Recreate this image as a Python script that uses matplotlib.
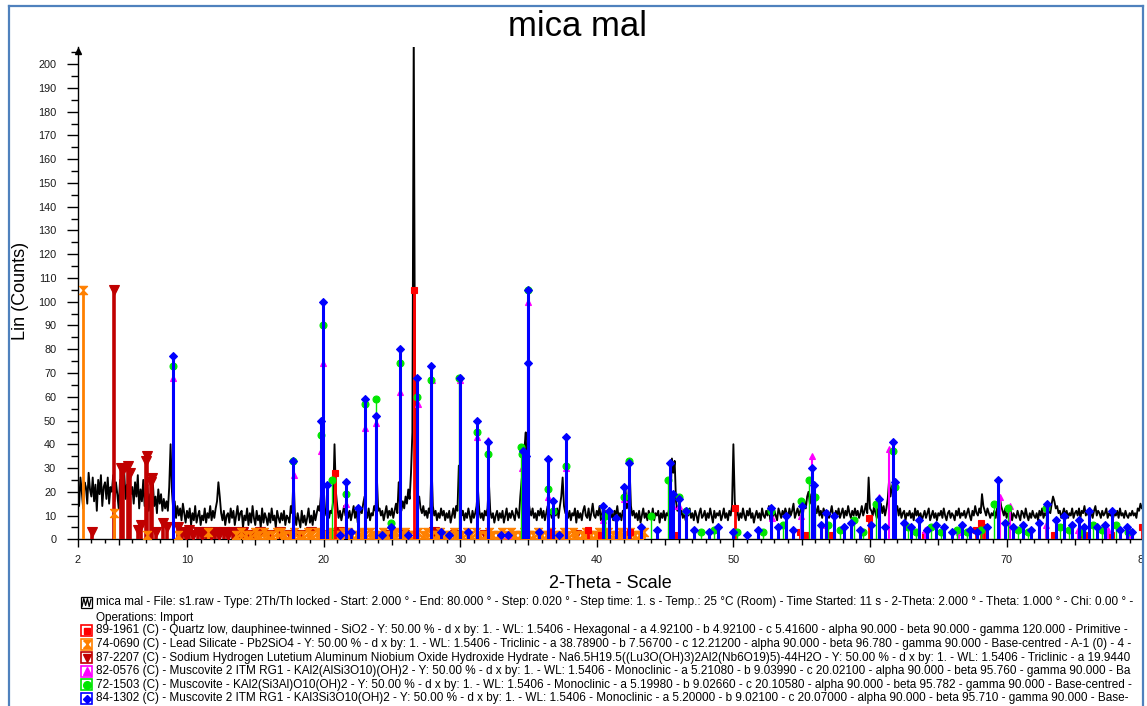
import numpy as np
import matplotlib
matplotlib.use("Agg")
import matplotlib.pyplot as plt
from matplotlib.patches import Rectangle
from matplotlib.lines import Line2D
from matplotlib.ticker import MultipleLocator, FixedLocator

plt.rcParams['font.family'] = ['Liberation Sans', 'DejaVu Sans']

# ---------------- data ----------------
TITLE = "mica mal"
X_LABEL = "2-Theta - Scale"
Y_LABEL = "Lin (Counts)"

SCAN_START = 2.0
SCAN_STEP = 0.1
SCAN_COUNTS = [
    25, 14, 26, 20, 13, 24, 22, 15, 28, 21,
    18, 26, 16, 23, 12, 25, 19, 27, 14, 22,
    24, 17, 26, 15, 22, 20, 27, 16, 24, 19,
    13, 25, 18, 21, 29, 17, 23, 14, 26, 19,
    22, 15, 24, 18, 27, 13, 21, 16, 25, 14,
    20, 23, 12, 19, 16, 24, 14, 18, 11, 21,
    15, 19, 12, 17, 13, 16, 12, 22, 40, 20,
    12, 16, 9, 14, 10, 13, 8, 15, 11, 7,
    12, 9, 13, 6, 11, 8, 14, 7, 10, 12,
    6, 10, 8, 13, 7, 11, 9, 14, 8, 12,
    9, 13, 16, 24, 18, 11, 8, 12, 6, 10,
    11, 7, 13, 9, 12, 6, 10, 14, 8, 11,
    12, 5, 10, 8, 13, 6, 11, 7, 14, 9,
    6, 12, 8, 10, 5, 13, 7, 11, 9, 6,
    11, 7, 13, 8, 10, 5, 12, 9, 7, 11,
    8, 12, 6, 10, 9, 7, 14, 11, 27, 10,
    6, 11, 8, 5, 12, 7, 10, 6, 9, 13,
    7, 10, 6, 12, 8, 11, 14, 12, 18, 36,
    22, 13, 10, 14, 9, 12, 11, 16, 40, 20,
    14, 9, 12, 8, 11, 14, 10, 13, 9, 12,
    8, 11, 14, 9, 12, 7, 10, 13, 11, 15,
    18, 12, 9, 13, 8, 11, 10, 14, 12, 26,
    12, 13, 10, 12, 8, 11, 14, 9, 12, 10,
    13, 9, 12, 15, 11, 24, 14, 12, 16, 13,
    18, 15, 21, 17, 28, 45, 215, 48, 22, 16,
    18, 13, 11, 14, 10, 12, 9, 13, 11, 32,
    14, 10, 12, 8, 11, 9, 13, 10, 12, 8,
    11, 9, 12, 7, 10, 13, 9, 14, 12, 31,
    18, 10, 12, 8, 11, 9, 13, 10, 7, 12,
    9, 11, 14, 21, 12, 9, 11, 8, 12, 10,
    13, 24, 12, 9, 11, 7, 10, 12, 8, 11,
    9, 12, 7, 10, 13, 8, 11, 9, 12, 10,
    8, 13, 11, 9, 18, 25, 30, 38, 45, 22,
    16, 12, 10, 13, 9, 11, 8, 12, 10, 13,
    9, 12, 8, 11, 14, 10, 12, 9, 13, 11,
    10, 13, 9, 14, 18, 26, 14, 11, 12, 9,
    12, 8, 11, 10, 13, 7, 12, 9, 11, 8,
    12, 14, 10, 9, 13, 8, 11, 15, 10, 9,
    12, 10, 14, 8, 11, 15, 9, 12, 10, 13,
    9, 11, 8, 12, 10, 14, 9, 11, 8, 12,
    12, 21, 13, 16, 30, 14, 10, 12, 9, 11,
    8, 12, 7, 10, 13, 9, 11, 8, 12, 10,
    9, 13, 8, 11, 10, 12, 7, 11, 9, 12,
    8, 11, 10, 13, 18, 34, 28, 33, 16, 12,
    14, 10, 12, 9, 11, 8, 12, 10, 13, 9,
    11, 8, 12, 10, 7, 11, 13, 9, 10, 12,
    8, 11, 9, 13, 10, 7, 12, 9, 11, 10,
    12, 8, 10, 13, 9, 11, 8, 12, 10, 14,
    40, 16, 10, 12, 8, 11, 9, 13, 10, 8,
    12, 10, 13, 9, 11, 7, 10, 12, 9, 11,
    8, 13, 10, 9, 12, 10, 14, 8, 11, 9,
    12, 10, 8, 13, 11, 9, 12, 10, 13, 11,
    9, 13, 10, 12, 15, 9, 11, 13, 10, 12,
    14, 11, 16, 13, 18, 20, 15, 19, 14, 17,
    13, 11, 14, 10, 12, 9, 13, 11, 10, 12,
    9, 11, 14, 10, 8, 12, 10, 13, 9, 11,
    13, 9, 12, 10, 14, 11, 9, 12, 10, 13,
    10, 12, 9, 11, 14, 10, 12, 15, 11, 26,
    13, 12, 10, 14, 11, 9, 13, 12, 15, 11,
    14, 10, 13, 17, 25, 18, 22, 24, 16, 12,
    14, 10, 13, 9, 11, 12, 8, 11, 10, 12,
    9, 11, 8, 13, 10, 12, 9, 11, 8, 10,
    12, 9, 11, 13, 8, 10, 12, 9, 11, 8,
    11, 10, 12, 9, 13, 10, 8, 11, 12, 9,
    11, 10, 8, 12, 10, 13, 9, 11, 10, 12,
    9, 11, 13, 10, 8, 12, 10, 14, 11, 10,
    13, 11, 19, 14, 12, 10, 13, 11, 9, 11,
    10, 12, 9, 13, 11, 18, 14, 12, 10, 13,
    9, 11, 10, 12, 8, 11, 10, 9, 12, 10,
    8, 12, 11, 9, 13, 10, 8, 11, 9, 12,
    10, 9, 11, 8, 12, 10, 13, 9, 11, 10,
    14, 12, 11, 15, 18, 16, 13, 14, 11, 12,
    9, 11, 13, 10, 12, 9, 11, 10, 13, 9,
    11, 12, 10, 13, 9, 12, 11, 14, 10, 12,
    10, 13, 11, 9, 12, 14, 10, 12, 11, 9,
    12, 10, 11, 13, 9, 11, 10, 12, 9, 11,
    10, 12, 9, 13, 10, 11, 9, 12, 10, 9,
    11, 10, 12, 10, 11, 9, 13, 12, 15, 13,
    14,
]

# 89-1961 Quartz (red squares)
QUARTZ_POS = [20.86, 26.64, 36.54, 39.38, 40.30, 42.45, 45.79, 50.14, 54.87, 55.33,
              57.24, 59.96, 64.04, 67.74, 68.14, 68.32, 73.47, 75.66, 77.67, 79.88]
QUARTZ_H = [28, 105, 3, 4, 2, 3, 2, 13, 3, 2, 2, 9, 2, 4, 7, 5, 2, 2, 2, 5]

# 74-0690 Lead Silicate (orange hourglasses)
LEAD_POS = [2.37, 4.63, 7.05, 9.32, 11.56,
            13.62, 13.98, 14.29, 14.63, 14.95, 15.27, 15.62, 15.91, 16.25, 16.57,
            16.9, 17.21, 17.55, 17.86, 18.2, 18.51, 18.84, 19.17, 19.49, 19.8,
            20.14, 20.47, 20.78, 21.11, 21.43, 21.76, 22.08, 22.4, 22.73, 23.05,
            23.37, 23.7, 24.02, 24.35, 24.66, 24.99, 25.31, 25.64, 25.96, 26.28,
            26.61, 26.93, 27.25, 27.58, 27.9, 28.22, 28.55, 28.87, 29.19, 29.52,
            29.84, 30.16, 30.49, 30.81, 31.13, 31.46, 31.78, 32.1, 32.43, 32.75,
            33.07, 33.4, 33.72, 34.04, 34.37, 34.69, 35.01, 35.34, 35.66, 35.98,
            36.31, 36.63, 36.95, 37.28, 37.6, 37.92, 38.25, 38.57, 38.89, 39.22,
            39.54, 39.86, 40.19, 40.51, 40.83, 41.16, 41.48, 41.8, 42.13, 42.45,
            42.77, 43.1, 43.42]
LEAD_H = [105, 11, 2, 2, 3,
          2, 3, 2, 2, 3, 2, 3, 2, 2, 3,
          3, 2, 2, 3, 2, 2, 3, 2, 3, 2,
          2, 3, 2, 2, 3, 3, 2, 2, 3, 2,
          3, 2, 2, 3, 2, 2, 3, 2, 3, 2,
          2, 3, 2, 3, 2, 2, 3, 2, 2, 3,
          2, 2, 3, 2, 3, 2, 2, 3, 2, 2,
          3, 2, 3, 2, 2, 3, 2, 2, 3, 2,
          2, 3, 2, 2, 3, 2, 3, 2, 2, 3,
          2, 2, 3, 2, 3, 2, 2, 3, 2, 3,
          2, 2, 3]

# 87-2207 Sodium Hydrogen Lutetium ... (dark red down triangles)
SODIUM_POS = [3.07, 4.66, 5.15, 5.34, 5.66, 5.83, 6.44, 6.61, 6.98, 7.05,
              7.34, 7.41, 7.70, 8.26, 8.51, 9.36, 9.62, 9.90, 10.18, 10.45,
              10.80, 11.12, 11.40, 11.75, 12.05, 12.38, 12.70, 13.02, 13.35, 13.70,
              14.10, 14.48, 14.90, 15.35, 16.05, 16.80, 17.55, 18.30, 19.05, 20.50,
              21.10, 24.70, 25.90, 28.10, 29.60, 31.80, 38.50]
SODIUM_H = [3, 105, 30, 29, 31, 28, 4, 6, 33, 35,
            24, 26, 3, 7, 5, 5, 3, 2, 4, 2,
            3, 2, 3, 2, 3, 2, 3, 2, 3, 2,
            3, 2, 2, 3, 2, 3, 2, 2, 3, 2,
            3, 2, 2, 3, 2, 2, 2]

# 82-0576 Muscovite 2 ITM RG1 (magenta up triangles)
MUSC82_POS = [8.98, 17.83, 19.84, 19.96, 21.67, 23.01, 23.86, 25.57, 26.9, 27.9,
              30.02, 31.25, 32.07, 33.53, 34.5, 35.0, 36.46, 37.75,
              40.45, 42.02, 45.4, 45.6, 46.0, 52.8, 54.95, 55.74, 56.8, 60.68,
              61.41, 64.0, 66.5, 69.51, 70.24, 72.9, 75.2, 77.4, 79.0]
MUSC82_H = [68, 27, 37, 74, 15, 47, 49, 62, 57, 67,
            67, 43, 42, 2, 30, 100, 18, 30,
            8, 17, 15, 14, 14, 9, 10, 35, 6, 18,
            38, 4, 3, 18, 14, 6, 4, 4, 3]

# 72-1503 Muscovite (green circles)
MUSC72_POS = [8.95, 17.76, 19.84, 19.96, 20.64, 21.67, 23.01, 23.86, 24.96, 25.57,
              26.86, 27.88, 29.92, 31.25, 32.07, 34.46, 34.52, 35.0, 36.46, 36.77,
              37.75,
              40.6, 42.02, 42.38, 43.97, 45.18, 45.99, 46.53, 47.6, 48.6, 50.3,
              52.2, 52.74, 53.6, 54.94, 55.54, 55.98, 56.9, 57.8, 58.83, 59.5,
              60.44, 61.66, 61.85, 62.8, 63.4, 64.5, 65.2, 66.4, 67.1, 68.1,
              69.09, 70.07, 70.8, 71.6, 72.9, 73.9, 74.6, 75.5, 76.3, 77.0,
              78.0, 78.9]
MUSC72_H = [73, 33, 44, 90, 25, 19, 57, 59, 7, 74,
            60, 67, 68, 45, 36, 39, 36, 105, 21, 12,
            31,
            10, 18, 33, 10, 25, 18, 12, 3, 4, 3,
            3, 12, 6, 16, 25, 18, 6, 4, 8, 3,
            15, 37, 22, 5, 3, 5, 3, 4, 3, 4,
            15, 13, 4, 3, 13, 5, 4, 3, 6, 4,
            6, 3]

# 84-1302 Muscovite 2 ITM RG1 (blue diamonds)
MUSC84_POS = [8.95, 17.76, 19.84, 19.96, 20.28, 21.2, 21.67, 22.0, 22.52, 23.01,
              23.86, 24.3, 24.96, 25.57, 26.2, 26.86, 27.88, 28.56, 29.2, 29.95,
              30.6, 31.25, 32.07, 33.0, 33.53, 34.63, 34.83, 34.98, 35.0, 35.8,
              36.46, 36.77, 37.21, 37.75,
              40.43, 40.92, 41.41, 42.02, 42.38, 43.2, 44.4, 45.36, 45.55, 45.99,
              46.53, 47.14, 48.2, 48.9, 49.95, 51.03, 51.8, 52.74, 53.3, 53.84,
              54.4, 55.05, 55.74, 55.91, 56.4, 56.76, 57.37, 58.1, 58.6, 59.3,
              60.1, 60.68, 61.1, 61.66, 61.85, 62.5, 63.0, 63.6, 64.2, 64.8,
              65.4, 66.0, 66.7, 67.3, 67.8, 68.6, 69.34, 69.9, 70.5, 71.2,
              71.8, 72.4, 72.99, 73.6, 74.19, 74.8, 75.3, 75.7, 76.04, 76.6,
              77.2, 77.75, 78.3, 78.8, 79.2]
MUSC84_H = [77, 33, 50, 100, 23, 2, 24, 3, 13, 59,
            52, 2, 5, 80, 2, 68, 73, 3, 2, 68,
            3, 50, 41, 2, 2, 37, 35, 74, 105, 3,
            34, 16, 2, 43,
            14, 12, 9, 22, 32, 5, 4, 32, 19, 17,
            12, 4, 3, 5, 3, 2, 4, 13, 5, 10,
            4, 14, 30, 23, 6, 11, 10, 5, 7, 4,
            6, 17, 5, 41, 24, 7, 5, 8, 4, 6,
            5, 3, 6, 4, 3, 5, 25, 7, 5, 6,
            4, 7, 15, 8, 10, 6, 8, 5, 12, 5,
            6, 12, 4, 5, 3]

X_TICKS = [2, 10, 20, 30, 40, 50, 60, 70, 80]
X_TICK_LABELS = ["2", "10", "20", "30", "40", "50", "60", "70", "80"]

LEGEND_SCAN = ("mica mal - File: s1.raw - Type: 2Th/Th locked - Start: 2.000 \u00b0 - End: 80.000 \u00b0 - "
               "Step: 0.020 \u00b0 - Step time: 1. s - Temp.: 25 \u00b0C (Room) - Time Started: 11 s - "
               "2-Theta: 2.000 \u00b0 - Theta: 1.000 \u00b0 - Chi: 0.00 \u00b0 -")
LEGEND_OPS = "Operations: Import"
LEGEND_PHASES = [
    "89-1961 (C) - Quartz low, dauphinee-twinned - SiO2 - Y: 50.00 % - d x by: 1. - WL: 1.5406 - Hexagonal - a 4.92100 - b 4.92100 - c 5.41600 - alpha 90.000 - beta 90.000 - gamma 120.000 - Primitive -",
    "74-0690 (C) - Lead Silicate - Pb2SiO4 - Y: 50.00 % - d x by: 1. - WL: 1.5406 - Triclinic - a 38.78900 - b 7.56700 - c 12.21200 - alpha 90.000 - beta 96.780 - gamma 90.000 - Base-centred - A-1 (0) - 4 -",
    "87-2207 (C) - Sodium Hydrogen Lutetium Aluminum Niobium Oxide Hydroxide Hydrate - Na6.5H19.5((Lu3O(OH)3)2Al2(Nb6O19)5)-44H2O - Y: 50.00 % - d x by: 1. - WL: 1.5406 - Triclinic - a 19.9440",
    "82-0576 (C) - Muscovite 2 ITM RG1 - KAl2(AlSi3O10)(OH)2 - Y: 50.00 % - d x by: 1. - WL: 1.5406 - Monoclinic - a 5.21080 - b 9.03990 - c 20.02100 - alpha 90.000 - beta 95.760 - gamma 90.000 - Ba",
    "72-1503 (C) - Muscovite - KAl2(Si3Al)O10(OH)2 - Y: 50.00 % - d x by: 1. - WL: 1.5406 - Monoclinic - a 5.19980 - b 9.02660 - c 20.10580 - alpha 90.000 - beta 95.782 - gamma 90.000 - Base-centred -",
    "84-1302 (C) - Muscovite 2 ITM RG1 - KAl3Si3O10(OH)2 - Y: 50.00 % - d x by: 1. - WL: 1.5406 - Monoclinic - a 5.20000 - b 9.02100 - c 20.07000 - alpha 90.000 - beta 95.710 - gamma 90.000 - Base-",
]

# ---------------- styles ----------------
C_QUARTZ = '#FF0000'
C_LEAD = '#FF8000'
C_SODIUM = '#C00000'
C_M82 = '#FF00FF'
C_M72 = '#00E600'
C_M84 = '#0000FF'
C_FRAME = '#4F81BD'
HOURGLASS = [(-1, 1), (1, 1), (-1, -1), (1, -1), (-1, 1)]

W, H = 1147, 706
fig = plt.figure(figsize=(W / 100, H / 100), dpi=100)
fig.patch.set_facecolor('white')


def fx(px):
    return px / W


def fy(py):
    return 1 - py / H


AX_L, AX_R, AX_B, AX_T = 77.7, 1143.2, 539.3, 47.0
ax = fig.add_axes([fx(AX_L), fy(AX_B), (AX_R - AX_L) / W, (AX_B - AX_T) / H])
ax.set_xlim(2, 80)
ax.set_ylim(0, 207.2)
ax.set_facecolor('none')

scan_x = SCAN_START + SCAN_STEP * np.arange(len(SCAN_COUNTS))
ax.plot(scan_x, SCAN_COUNTS, color='black', lw=1.35, zorder=2)


def sticks(pos, h, color, marker, ms, lw, z, mew=0.8):
    ax.vlines(pos, 0, h, colors=color, lw=lw, zorder=z)
    ax.plot(pos, h, ls='none', marker=marker, ms=ms, color=color, mec=color,
            mew=mew, zorder=z + 0.1)


sticks(SODIUM_POS, SODIUM_H, C_SODIUM, 'v', 6.5, 2.6, 3.0)
sticks(LEAD_POS, LEAD_H, C_LEAD, HOURGLASS, 6.0, 2.0, 3.2)
sticks(QUARTZ_POS, QUARTZ_H, C_QUARTZ, 's', 4.5, 2.0, 3.4)
sticks(MUSC82_POS, MUSC82_H, C_M82, '^', 5.0, 1.5, 3.6)
sticks(MUSC72_POS, MUSC72_H, C_M72, 'o', 5.0, 1.0, 3.8)
sticks(MUSC84_POS, MUSC84_H, C_M84, 'D', 4.2, 2.2, 4.0)

# axes styling
for s in ('top', 'right'):
    ax.spines[s].set_visible(False)
for s in ('left', 'bottom'):
    ax.spines[s].set_color('black')
    ax.spines[s].set_linewidth(1.0)

ax.xaxis.set_major_locator(FixedLocator(X_TICKS))
ax.set_xticklabels(X_TICK_LABELS)
ax.xaxis.set_minor_locator(FixedLocator([i for i in range(3, 80) if i % 5 != 0]))
ax.tick_params(axis='x', which='major', length=5.5, width=1.0, pad=6.0,
               labelsize=7.8, labelcolor='#1a1a1a', direction='out')
ax.tick_params(axis='x', which='minor', length=2.6, width=1.0, direction='out')

sec = ax.secondary_xaxis('bottom')
sec.set_xticks([5, 15, 25, 35, 45, 55, 65, 75])
sec.set_xticklabels([])
sec.tick_params(axis='x', length=4.3, width=1.0, direction='out')
sec.spines['bottom'].set_visible(False)

ax.yaxis.set_major_locator(MultipleLocator(10))
ax.yaxis.set_minor_locator(MultipleLocator(5))
ax.tick_params(axis='y', which='major', length=8.0, width=1.0, pad=7.5,
               labelsize=7.8, labelcolor='#1a1a1a', direction='out')
ax.tick_params(axis='y', which='minor', length=5.2, width=1.0, direction='out')

# arrow at the top of the y axis
ax.plot([2], [205.6], marker='^', ms=4.5, color='black', clip_on=False, zorder=5)

# titles
fig.text(fx(577), fy(27), TITLE, fontsize=25, ha='center', va='center', color='black')
fig.text(fx(610.5), fy(583), X_LABEL, fontsize=13, ha='center', va='center', color='black')
fig.text(fx(20.5), fy(291), Y_LABEL, fontsize=13, ha='center', va='center',
         rotation=90, color='black')

# ---------------- legend ----------------
TEXT_X = 96
ROW_Y = [602.5, 618.0, 630.5, 644.0, 657.5, 671.0, 684.8, 698.5]
BOX_X0, BOX_SIZE = 81.0, 11.0

texts = []
texts.append(fig.text(fx(TEXT_X), fy(ROW_Y[0]), LEGEND_SCAN, fontsize=7.5,
                      ha='left', va='center', color='black'))
texts.append(fig.text(fx(TEXT_X), fy(ROW_Y[1]), LEGEND_OPS, fontsize=7.5,
                      ha='left', va='center', color='black'))
for i, lab in enumerate(LEGEND_PHASES):
    texts.append(fig.text(fx(TEXT_X), fy(ROW_Y[2 + i]), lab, fontsize=7.5,
                          ha='left', va='center', color='black'))

# fit the font size so the quartz row ends where the reference row ends
fig.canvas.draw()
renderer = fig.canvas.get_renderer()
wq = texts[2].get_window_extent(renderer).width
fs = 7.5 * (1127 - TEXT_X) / wq
for t in texts:
    t.set_fontsize(fs)

# scan icon
yc = ROW_Y[0]
fig.add_artist(Rectangle((fx(BOX_X0), fy(yc + BOX_SIZE / 2)), BOX_SIZE / W, BOX_SIZE / H,
                         transform=fig.transFigure, fc='white', ec='black', lw=0.9))
wx = [82.0, 83.8, 85.6, 87.4, 89.2, 91.0]
wy = [yc + 4, yc - 4, yc + 3, yc - 4, yc + 4, yc - 3]
fig.add_artist(Line2D([fx(v) for v in wx], [fy(v) for v in wy], transform=fig.transFigure,
                      color='black', lw=0.9))

icon_specs = [(C_QUARTZ, 's', 5.0), (C_LEAD, HOURGLASS, 5.5), (C_SODIUM, 'v', 6.0),
              (C_M82, '^', 6.0), (C_M72, 'o', 5.5), (C_M84, 'D', 4.5)]
for i, (col, mk, ms) in enumerate(icon_specs):
    yc = ROW_Y[2 + i]
    fig.add_artist(Rectangle((fx(BOX_X0), fy(yc + BOX_SIZE / 2)), BOX_SIZE / W, BOX_SIZE / H,
                             transform=fig.transFigure, fc='white', ec=col, lw=1.2))
    fig.add_artist(Line2D([fx(BOX_X0 + BOX_SIZE / 2)], [fy(yc)], transform=fig.transFigure,
                          ls='none', marker=mk, ms=ms, color=col, mec=col))

# ---------------- frame ----------------
fig.add_artist(Rectangle((fx(1143.6), 0), (W - 1143.6) / W, 1, transform=fig.transFigure,
                         fc='white', ec='none', zorder=20))
for xs, ys in [([8.5, 1142.5], [5.5, 5.5]), ([8.5, 8.5], [5.5, 706]),
               ([1142.5, 1142.5], [5.5, 706])]:
    fig.add_artist(Line2D([fx(v) for v in xs], [fy(v) for v in ys], transform=fig.transFigure,
                          color=C_FRAME, lw=1.6, zorder=21))

fig.savefig('out.png', dpi=100, facecolor='white')
